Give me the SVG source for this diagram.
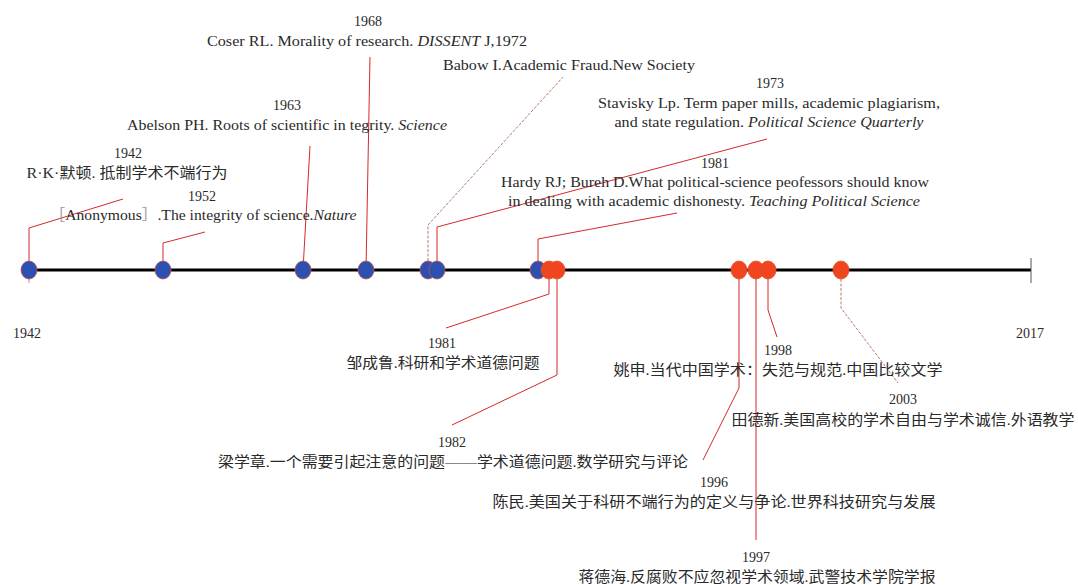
<svg xmlns="http://www.w3.org/2000/svg" width="1078" height="585" viewBox="0 0 1078 585">
<style>
text{font-family:"Liberation Serif","Noto Sans CJK SC",serif;font-size:15px;fill:#2a2a2a;text-anchor:middle}
.yr{font-size:14px}
.cn{font-size:14.5px}
i,.it{font-style:italic}
.ln{fill:none;stroke:#d42a2a;stroke-width:1}
.faint{fill:none;stroke:#b87a70;stroke-width:1;stroke-dasharray:3 1.5}
.blue{fill:#2c4fb0;stroke:#c0504a;stroke-width:0.8}
.red{fill:#f0451f;stroke:#e0502a;stroke-width:0.8}
</style>
<rect width="1078" height="585" fill="#fff"/>
<g id="connectors">
<path class="ln" d="M29,270 V228 L123,199"/>
<path class="ln" d="M163,270 V243 L205,232"/>
<path class="ln" d="M303,270 L310,146"/>
<path class="ln" d="M366,270 L370,57"/>
<path class="faint" d="M428,270 V225 L563,77"/>
<path class="ln" d="M437,270 V227 L767,139"/>
<path class="ln" d="M538,270 V239 L677,213"/>
<path class="ln" d="M549,270 V294 L446,328"/>
<path class="ln" d="M557,270 V375 L452,425"/>
<path class="ln" d="M739,270 V388 L703,460"/>
<path class="ln" d="M756,270 V540"/>
<path class="ln" d="M768,270 V310 L777,337"/>
<path class="faint" d="M841,270 V308 L898,383"/>
</g>
<g id="axis">
<line x1="28" y1="270" x2="1031" y2="270" stroke="#000" stroke-width="3"/>
<line x1="1031" y1="258" x2="1031" y2="283" stroke="#555" stroke-width="1"/>
<line x1="29" y1="270" x2="29" y2="283" stroke="#999" stroke-width="1"/>
<text class="yr" x="27" y="338">1942</text>
<text class="yr" x="1030" y="338">2017</text>
</g>
<g id="n1942"><ellipse class="blue" cx="29" cy="270" rx="8" ry="9"/><text class="yr" x="128" y="158">1942</text><text class="cn" x="127" y="178" textLength="201" lengthAdjust="spacingAndGlyphs">R·K·默顿. 抵制学术不端行为</text></g>
<g id="n1952"><ellipse class="blue" cx="163" cy="270" rx="8" ry="9"/><text class="yr" x="202" y="201">1952</text><text x="203" y="220" textLength="307" lengthAdjust="spacingAndGlyphs"><tspan fill="#999">［</tspan>Anonymous<tspan fill="#999">］</tspan>.The integrity of science.<tspan class="it">Nature</tspan></text></g>
<g id="n1963"><ellipse class="blue" cx="303" cy="270" rx="8" ry="9"/><text class="yr" x="287" y="110">1963</text><text x="287" y="130" textLength="320" lengthAdjust="spacingAndGlyphs">Abelson PH. Roots of scientific in tegrity. <tspan class="it">Science</tspan></text></g>
<g id="n1968"><ellipse class="blue" cx="366" cy="270" rx="8" ry="9"/><text class="yr" x="368" y="26">1968</text><text x="367" y="46" textLength="320" lengthAdjust="spacingAndGlyphs">Coser RL. Morality of research. <tspan class="it">DISSENT</tspan> J,1972</text></g>
<g id="nBabow"><ellipse class="blue" cx="428" cy="270" rx="8" ry="9"/><text x="569" y="70" textLength="252" lengthAdjust="spacingAndGlyphs">Babow I.Academic Fraud.New Society</text></g>
<g id="n1973"><ellipse class="blue" cx="437" cy="270" rx="8" ry="9"/><text class="yr" x="770" y="88">1973</text><text x="769" y="108" textLength="342" lengthAdjust="spacingAndGlyphs">Stavisky Lp. Term paper mills,  academic plagiarism,</text><text x="769" y="127" textLength="309" lengthAdjust="spacingAndGlyphs">and state regulation. <tspan class="it">Political Science Quarterly</tspan></text></g>
<g id="n1981a"><ellipse class="blue" cx="538" cy="270" rx="8" ry="9"/><text class="yr" x="715" y="168">1981</text><text x="715" y="187" textLength="428" lengthAdjust="spacingAndGlyphs">Hardy RJ; Bureh D.What political-science peofessors should know</text><text x="714" y="206" textLength="412" lengthAdjust="spacingAndGlyphs">in dealing with academic dishonesty. <tspan class="it">Teaching Political Science</tspan></text></g>
<g id="n1981b"><ellipse class="red" cx="549" cy="270" rx="8" ry="9"/><text class="yr" x="442" y="348">1981</text><text class="cn" x="443" y="368" textLength="193" lengthAdjust="spacingAndGlyphs">邹成鲁.科研和学术道德问题</text></g>
<g id="n1982"><ellipse class="red" cx="557" cy="270" rx="8" ry="9"/><text class="yr" x="452" y="447">1982</text><text class="cn" x="453" y="467" textLength="470" lengthAdjust="spacingAndGlyphs">梁学章.一个需要引起注意的问题——学术道德问题.数学研究与评论</text></g>
<g id="n1996"><ellipse class="red" cx="739" cy="270" rx="8" ry="9"/><text class="yr" x="714" y="487">1996</text><text class="cn" x="714" y="507" textLength="443" lengthAdjust="spacingAndGlyphs">陈民.美国关于科研不端行为的定义与争论.世界科技研究与发展</text></g>
<g id="n1997"><ellipse class="red" cx="756" cy="270" rx="8" ry="9"/><text class="yr" x="756" y="562">1997</text><text class="cn" x="757" y="582" textLength="357" lengthAdjust="spacingAndGlyphs">蒋德海.反腐败不应忽视学术领域.武警技术学院学报</text></g>
<g id="n1998"><ellipse class="red" cx="768" cy="270" rx="8" ry="9"/><text class="yr" x="778" y="355">1998</text><text class="cn" x="778" y="375" textLength="329" lengthAdjust="spacingAndGlyphs">姚申.当代中国学术：失范与规范.中国比较文学</text></g>
<g id="n2003"><ellipse class="red" cx="841" cy="270" rx="8" ry="9"/><text class="yr" x="903" y="404">2003</text><text class="cn" x="903" y="425" textLength="343" lengthAdjust="spacingAndGlyphs">田德新.美国高校的学术自由与学术诚信.外语教学</text></g>
</svg>
